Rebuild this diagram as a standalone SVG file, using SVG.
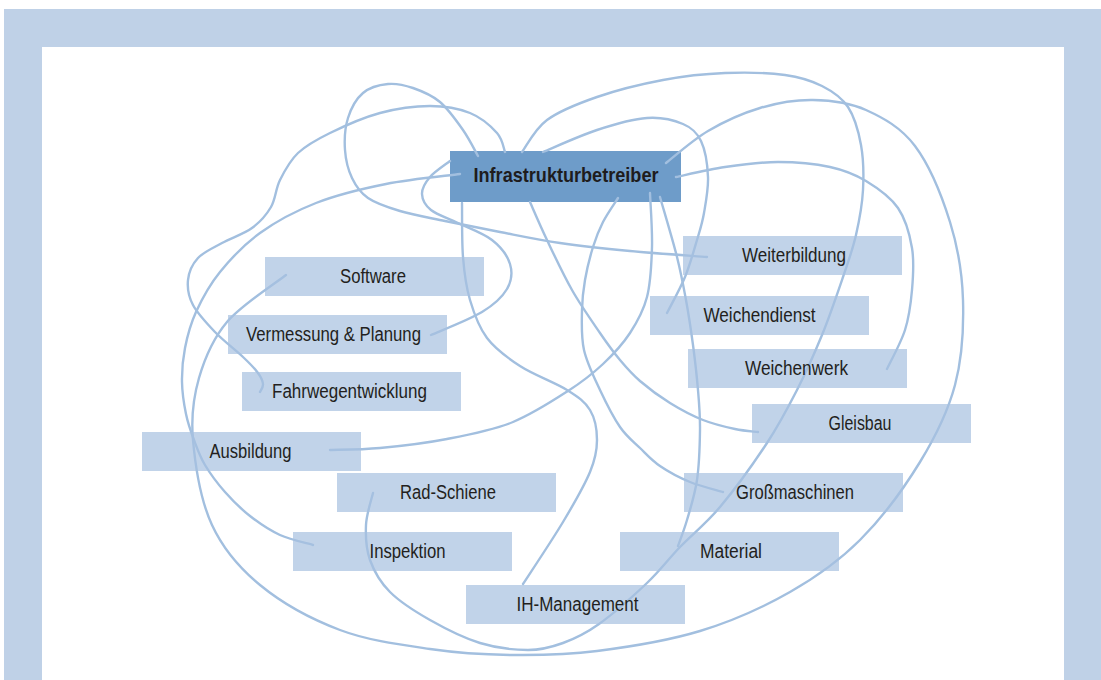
<svg xmlns="http://www.w3.org/2000/svg" width="1101" height="680" viewBox="0 0 1101 680">
  <defs>
    <style>
      .frame { fill: #bfd1e7; }
      .sheet { fill: #ffffff; }
      .box { fill: #a6c1df; fill-opacity: 0.7; }
      .hub { fill: #6e9cc9; }
      .link { fill: none; stroke: #a2bfdf; stroke-width: 2.4; stroke-linecap: round; }
      .label { font-family: "Liberation Sans Narrow", "Liberation Sans", Arial, sans-serif; font-size: 20px; fill: #231f20; text-anchor: middle; }
      .hub-label { font-family: "Liberation Sans Narrow", "Liberation Sans", Arial, sans-serif; font-size: 21px; font-weight: bold; fill: #1e1c1d; text-anchor: middle; }
    </style>
  </defs>

  <!-- page frame -->
  <rect class="frame" x="4" y="9" width="1097" height="671"/>
  <rect class="sheet" x="42" y="47" width="1022" height="633"/>

  <!-- central node (drawn under the connectors) -->
  <g id="node-infrastrukturbetreiber">
    <rect class="hub" x="450" y="151" width="231" height="51"/>
    <text class="hub-label" x="566" y="182" textLength="185" lengthAdjust="spacingAndGlyphs">Infrastrukturbetreiber</text>
  </g>

  <g id="connectors">
    <!-- to Software, around the outside -->
    <path class="link" id="link-software" d="M666,163 C673,157.7 692.3,140.2 708,131 C723.7,121.8 742.5,113.2 760,108 C777.5,102.8 795.3,99.7 813,100 C830.7,100.3 849,102.3 866,110 C883,117.7 901,127.3 915,146 C929,164.7 942,196.3 950,222 C958,247.7 962.2,272.8 963,300 C963.8,327.2 962.2,358 955,385 C947.8,412 935.8,436.2 920,462 C904.2,487.8 881.7,518.3 860,540 C838.3,561.7 816.7,576.8 790,592 C763.3,607.2 732.2,621.2 700,631 C667.8,640.8 628.2,647 597,651 C565.8,655 540.8,655.3 513,655 C485.2,654.7 458.8,653.2 430,649 C401.2,644.8 368.3,640.7 340,630 C311.7,619.3 281.3,602.5 260,585 C238.7,567.5 223.2,549.2 212,525 C200.8,500.8 195.2,464.5 193,440 C190.8,415.5 193.3,397.7 199,378 C204.7,358.3 212.5,339.2 227,322 C241.5,304.8 276.2,282.8 286,275"/>
    <!-- to Inspektion -->
    <path class="link" id="link-inspektion" d="M460,174 C447.7,175.7 410,179.2 386,184 C362,188.8 337,194.8 316,203 C295,211.2 276,221.5 260,233 C244,244.5 230.7,258.8 220,272 C209.3,285.2 201.8,299.3 196,312 C190.2,324.7 187.3,336.3 185,348 C182.7,359.7 181.8,371 182,382 C182.2,393 184,404.3 186,414 C188,423.7 190.8,431.5 194,440 C197.2,448.5 199.8,456.3 205,465 C210.2,473.7 217.5,483.5 225,492 C232.5,500.5 240.8,508.8 250,516 C259.2,523.2 269.5,530.2 280,535 C290.5,539.8 307.5,543.3 313,545"/>
    <!-- to Fahrwegentwicklung -->
    <path class="link" id="link-fahrweg" d="M505,152 C503.7,148.8 502.8,139.5 497,133 C491.2,126.5 481.2,117.5 470,113 C458.8,108.5 445,106 430,106 C415,106 396.7,108.5 380,113 C363.3,117.5 343.7,126.3 330,133 C316.3,139.7 306.3,145.2 298,153 C289.7,160.8 284.5,171 280,180 C275.5,189 275.7,199 271,207 C266.3,215 260.2,222 252,228 C243.8,234 231,238 222,243 C213,248 203.7,251.8 198,258 C192.3,264.2 188.8,272.2 188,280 C187.2,287.8 188.5,296.3 193,305 C197.5,313.7 206.7,323.3 215,332 C223.3,340.7 235.8,350.2 243,357 C250.2,363.8 254.7,368.5 258,373 C261.3,377.5 262.7,380.8 263,384 C263.3,387.2 260.5,390.7 260,392"/>
    <!-- to Weiterbildung, with a loop over the top -->
    <path class="link" id="link-weiterbildung" d="M478,156 C475.5,151.7 469.3,139 463,130 C456.7,121 448.3,109 440,102 C431.7,95 421.7,91 413,88 C404.3,85 396.3,83.2 388,84 C379.7,84.8 369.7,87.3 363,93 C356.3,98.7 351,108.5 348,118 C345,127.5 344.3,140 345,150 C345.7,160 348.2,170 352,178 C355.8,186 360,192.5 368,198 C376,203.5 387.2,207.2 400,211 C412.8,214.8 428.3,217.5 445,221 C461.7,224.5 480.8,228.3 500,232 C519.2,235.7 538.3,239.8 560,243 C581.7,246.2 605.5,248.7 630,251 C654.5,253.3 694.2,256 707,257"/>
    <!-- to Vermessung & Planung -->
    <path class="link" id="link-vermessung" d="M450,161 C446.7,163.7 434.7,171.5 430,177 C425.3,182.5 421.8,188.5 422,194 C422.2,199.5 425,205.2 431,210 C437,214.8 447.8,218 458,223 C468.2,228 483.3,233.2 492,240 C500.7,246.8 507.5,255.8 510,264 C512.5,272.2 511.7,281 507,289 C502.3,297 494.7,304.3 482,312 C469.3,319.7 439.5,331.2 431,335"/>
    <!-- to Rad-Schiene, round the right side and along the bottom -->
    <path class="link" id="link-rad-schiene" d="M522,152 C526.2,146.7 534.5,129.2 547,120 C559.5,110.8 577.7,103.7 597,97 C616.3,90.3 641.7,84 663,80 C684.3,76 704.7,73.8 725,73 C745.3,72.2 768.8,72.8 785,75 C801.2,77.2 811.5,80.7 822,86 C832.5,91.3 841.5,97.2 848,107 C854.5,116.8 858.5,131.2 861,145 C863.5,158.8 863.8,175 863,190 C862.2,205 859.3,220.5 856,235 C852.7,249.5 848.7,260.3 843,277 C837.3,293.7 829.7,316.2 822,335 C814.3,353.8 806.2,372 797,390 C787.8,408 779.8,423.5 767,443 C754.2,462.5 734.5,489.7 720,507 C705.5,524.3 692.2,534.3 680,547 C667.8,559.7 660.5,570.2 647,583 C633.5,595.8 613,614 599,624 C585,634 574.8,638.7 563,643 C551.2,647.3 541.8,650 528,650 C514.2,650 496.3,648 480,643 C463.7,638 445,628.5 430,620 C415,611.5 400,602 390,592 C380,582 374,571.2 370,560 C366,548.8 365.5,536.2 366,525 C366.5,513.8 371.8,498.3 373,493"/>
    <!-- to Weichendienst -->
    <path class="link" id="link-weichendienst" d="M543,152 C552,148.3 579.7,135.7 597,130 C614.3,124.3 632.7,119 647,118 C661.3,117 674,120.2 683,124 C692,127.8 696.8,132.2 701,141 C705.2,149.8 707.5,165 708,177 C708.5,189 705.8,202.5 704,213 C702.2,223.5 700.2,229.3 697,240 C693.8,250.7 690,264.8 685,277 C680,289.2 670,307 667,313"/>
    <!-- to Weichenwerk -->
    <path class="link" id="link-weichenwerk" d="M676,177 C684.2,175.3 708,169.5 725,167 C742,164.5 760.5,162 778,162 C795.5,162 815.3,163.8 830,167 C844.7,170.2 854.7,174.2 866,181 C877.3,187.8 890.3,196.8 898,208 C905.7,219.2 909.7,234.3 912,248 C914.3,261.7 913.2,276.3 912,290 C910.8,303.7 909.2,316.8 905,330 C900.8,343.2 890,362.5 887,369"/>
    <!-- to IH-Management -->
    <path class="link" id="link-ih-management" d="M462,203 C462.2,212 461.7,240.8 463,257 C464.3,273.2 466,286.5 470,300 C474,313.5 478.7,327 487,338 C495.3,349 506.7,357.3 520,366 C533.3,374.7 555.3,382.7 567,390 C578.7,397.3 585,401.7 590,410 C595,418.3 597,429.7 597,440 C597,450.3 595.7,458.3 590,472 C584.3,485.7 574.2,503.3 563,522 C551.8,540.7 529.7,573.7 523,584"/>
    <!-- to Gleisbau -->
    <path class="link" id="link-gleisbau" d="M530,202 C532.8,208.3 540,225.3 547,240 C554,254.7 563.2,274.5 572,290 C580.8,305.5 592,321.3 600,333 C608,344.7 613.3,352 620,360 C626.7,368 631.7,373.8 640,381 C648.3,388.2 659.5,396.5 670,403 C680.5,409.5 692.2,415.7 703,420 C713.8,424.3 725.8,427 735,429 C744.2,431 754.2,431.5 758,432"/>
    <!-- to Großmaschinen -->
    <path class="link" id="link-grossmaschinen" d="M618,198 C615.5,202 607.2,213.8 603,222 C598.8,230.2 596,237.3 593,247 C590,256.7 586.8,269.5 585,280 C583.2,290.5 582.2,298.3 582,310 C581.8,321.7 581,336.7 584,350 C587,363.3 594,377.2 600,390 C606,402.8 613.3,417.3 620,427 C626.7,436.7 633.3,441.5 640,448 C646.7,454.5 651.7,460.3 660,466 C668.3,471.7 679.5,477.7 690,482 C700.5,486.3 717.5,490.3 723,492"/>
    <!-- to Ausbildung -->
    <path class="link" id="link-ausbildung" d="M650,193 C650.3,202 652.5,229.7 652,247 C651.5,264.3 650.7,282.7 647,297 C643.3,311.3 637.3,321.8 630,333 C622.7,344.2 613.3,354.3 603,364 C592.7,373.7 583,381.3 568,391 C553,400.7 533.2,413.7 513,422 C492.8,430.3 469.2,434.7 447,439 C424.8,443.3 399.5,446.2 380,448 C360.5,449.8 338.3,449.7 330,450"/>
    <!-- to Material -->
    <path class="link" id="link-material" d="M660,197 C662.8,207 672.7,239.8 677,257 C681.3,274.2 683.3,285.3 686,300 C688.7,314.7 691,330 693,345 C695,360 696.8,375.8 698,390 C699.2,404.2 700.2,415 700,430 C699.8,445 699.2,465 697,480 C694.8,495 690.2,509 687,520 C683.8,531 679.5,541.7 678,546"/>
  </g>

  <!-- partner nodes; the translucent fill lets the links show through -->
  <g id="node-software">
    <rect class="box" x="265" y="257" width="219" height="39"/>
    <text class="label" x="373" y="282.5" textLength="66" lengthAdjust="spacingAndGlyphs">Software</text>
  </g>
  <g id="node-vermessung">
    <rect class="box" x="228" y="315" width="219" height="39"/>
    <text class="label" x="333.5" y="340.5" textLength="175" lengthAdjust="spacingAndGlyphs">Vermessung &amp; Planung</text>
  </g>
  <g id="node-fahrwegentwicklung">
    <rect class="box" x="242" y="372" width="219" height="39"/>
    <text class="label" x="349.5" y="397.5" textLength="155" lengthAdjust="spacingAndGlyphs">Fahrwegentwicklung</text>
  </g>
  <g id="node-ausbildung">
    <rect class="box" x="142" y="432" width="219" height="39"/>
    <text class="label" x="250.5" y="457.5" textLength="82" lengthAdjust="spacingAndGlyphs">Ausbildung</text>
  </g>
  <g id="node-rad-schiene">
    <rect class="box" x="337" y="473" width="219" height="39"/>
    <text class="label" x="448" y="498.5" textLength="96" lengthAdjust="spacingAndGlyphs">Rad-Schiene</text>
  </g>
  <g id="node-inspektion">
    <rect class="box" x="293" y="532" width="219" height="39"/>
    <text class="label" x="407.5" y="557.5" textLength="76" lengthAdjust="spacingAndGlyphs">Inspektion</text>
  </g>
  <g id="node-ih-management">
    <rect class="box" x="466" y="585" width="219" height="39"/>
    <text class="label" x="577.5" y="610.5" textLength="122" lengthAdjust="spacingAndGlyphs">IH-Management</text>
  </g>
  <g id="node-weiterbildung">
    <rect class="box" x="683" y="236" width="219" height="39"/>
    <text class="label" x="794" y="261.5" textLength="104" lengthAdjust="spacingAndGlyphs">Weiterbildung</text>
  </g>
  <g id="node-weichendienst">
    <rect class="box" x="650" y="296" width="219" height="39"/>
    <text class="label" x="759.5" y="321.5" textLength="112" lengthAdjust="spacingAndGlyphs">Weichendienst</text>
  </g>
  <g id="node-weichenwerk">
    <rect class="box" x="688" y="349" width="219" height="39"/>
    <text class="label" x="796.5" y="374.5" textLength="103" lengthAdjust="spacingAndGlyphs">Weichenwerk</text>
  </g>
  <g id="node-gleisbau">
    <rect class="box" x="752" y="404" width="219" height="39"/>
    <text class="label" x="860" y="429.5" textLength="63" lengthAdjust="spacingAndGlyphs">Gleisbau</text>
  </g>
  <g id="node-grossmaschinen">
    <rect class="box" x="684" y="473" width="219" height="39"/>
    <text class="label" x="795" y="498.5" textLength="118" lengthAdjust="spacingAndGlyphs">Großmaschinen</text>
  </g>
  <g id="node-material">
    <rect class="box" x="620" y="532" width="219" height="39"/>
    <text class="label" x="731" y="557.5" textLength="62" lengthAdjust="spacingAndGlyphs">Material</text>
  </g>
</svg>
